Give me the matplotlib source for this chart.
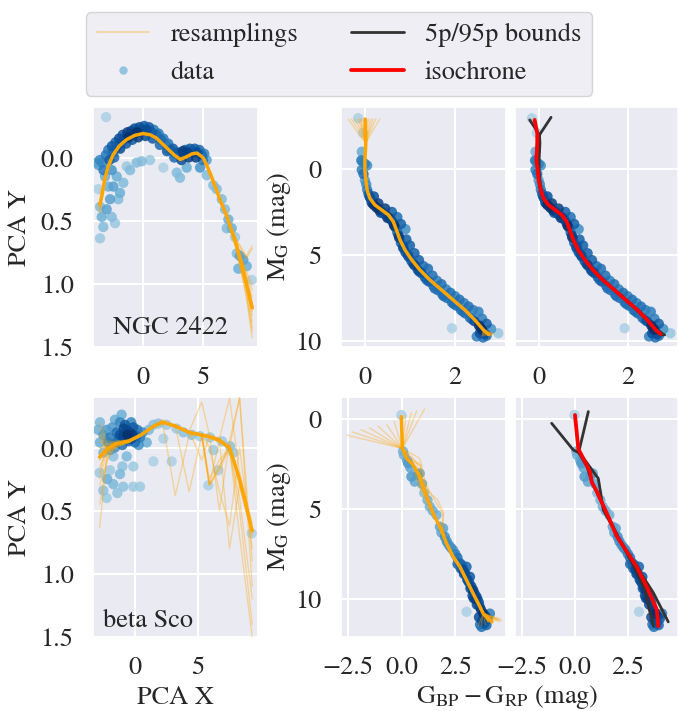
import numpy as np
import matplotlib.pyplot as plt
import seaborn as sns
from matplotlib.lines import Line2D

# ---------------- NGC 2422 : PCA plane ----------------
ngcPcaPoints = [
  # dense arc
  (-3.7, 0.06), (-3.6, 0.02), (-3.4, 0.04), (-3.3, 0.10), (-3.1, -0.02), (-2.9, -0.06),
  (-2.8, 0.02), (-2.6, -0.09), (-2.5, -0.04), (-2.3, -0.12), (-2.2, -0.08), (-2.0, -0.15),
  (-1.8, -0.12), (-1.7, -0.18), (-1.5, -0.15), (-1.3, -0.20), (-1.2, -0.16), (-1.0, -0.21),
  (-0.8, -0.18), (-0.7, -0.23), (-0.5, -0.20), (-0.3, -0.24), (-0.1, -0.21), (0.1, -0.25),
  (0.3, -0.22), (0.5, -0.24), (0.7, -0.20), (0.9, -0.22), (1.1, -0.18), (1.3, -0.19),
  (1.5, -0.14), (1.7, -0.15), (1.9, -0.10), (2.1, -0.11), (2.3, -0.06), (2.5, -0.07),
  (2.7, -0.03), (2.9, -0.04), (3.1, -0.02), (3.3, -0.05), (3.5, -0.06), (3.7, -0.04),
  (3.9, -0.07), (4.1, -0.05), (4.3, -0.07), (4.5, -0.04), (4.7, -0.06), (4.9, -0.02),
  (5.1, -0.03), (5.3, 0.02),
  (-2.4, 0.00), (-1.9, -0.07), (-1.4, -0.11), (-0.9, -0.14), (-0.4, -0.16), (0.2, -0.17),
  (0.8, -0.15), (1.4, -0.10), (2.0, -0.05), (2.6, 0.00), (3.2, 0.02), (3.8, 0.00),
  (4.4, 0.00), (5.0, 0.02),
  # spread below the arc
  (-3.86, 0.04), (-3.72, 0.25), (-3.58, 0.39), (-3.44, 0.47), (-3.58, 0.64), (-3.31, 0.55),
  (-2.75, 0.33), (-2.47, 0.23), (-2.19, 0.15), (-1.92, 0.28), (-1.64, 0.20), (-2.33, 0.52),
  (-3.03, 0.41), (-1.08, 0.10), (-0.53, 0.04), (-0.11, 0.03), (0.58, 0.02), (1.69, 0.08),
  (2.81, 0.12), (3.08, 0.16), (3.64, 0.08), (4.75, 0.08), (-1.36, 0.07), (-2.61, 0.10),
  (-3.17, 0.15), (-2.89, 0.23), (-2.06, 0.33), (-2.61, 0.47), (-3.08, -0.32),
  # bright tail
  (5.31, 0.14), (5.86, 0.22), (6.14, 0.25), (6.56, 0.33), (6.83, 0.41), (7.11, 0.49),
  (7.39, 0.56), (7.67, 0.63), (7.81, 0.76), (8.08, 0.78), (8.36, 0.81), (8.64, 0.86),
  (9.06, 0.97), (7.94, 0.88), (6.97, 0.56),
]
ngcPcaKnotX = [-3.6, -3.4, -3.2, -2.9, -2.5, -2.0, -1.4, -0.7, 0.0, 0.6, 1.1, 1.6, 2.1,
               2.6, 3.1, 3.6, 4.1, 4.5, 5.0, 5.4, 5.9, 6.4, 7.0, 7.8, 8.6, 9.1]
ngcPcaKnotY = [0.41, 0.29, 0.175, 0.07, -0.02, -0.09, -0.14, -0.175, -0.19, -0.18, -0.155,
               -0.11, -0.065, -0.02, 0.015, -0.005, -0.03, -0.035, 0.0, 0.08, 0.2, 0.33,
               0.47, 0.70, 1.0, 1.2]
ngcPcaStartY = [0.41, 0.30, 0.38, 0.44, 0.35, 0.25, 0.40, 0.33, 0.43, 0.37, 0.28, 0.41, 0.36, 0.39]
ngcPcaTailY = [  # y at x = 7.8, 8.6, 9.1 for each resampling
  [0.70, 1.00, 1.20], [0.68, 0.95, 1.10], [0.72, 1.05, 1.35], [0.66, 0.80, 0.72],
  [0.71, 1.02, 1.25], [0.74, 1.10, 1.43], [0.69, 0.98, 1.15], [0.70, 0.92, 1.05],
  [0.65, 0.78, 0.70], [0.73, 1.08, 1.38], [0.70, 1.00, 1.22], [0.68, 0.90, 1.00],
  [0.71, 1.03, 1.30], [0.69, 0.97, 1.18]]

# ---------------- NGC 2422 : CMD ----------------
ngcCmdPoints = [
  (-0.15, -2.95), (-0.04, -2.1), (-0.07, -1.0), (-0.06, -0.45), (-0.07, 0.05), (-0.03, 0.3),
  (0.0, 0.65), (0.03, 0.9), (0.05, 1.2), (0.08, 1.45), (0.12, 1.7), (0.15, 1.95), (0.2, 2.1),
  (0.26, 2.25), (0.32, 2.4), (0.38, 2.5), (0.45, 2.65), (0.52, 2.8), (0.58, 2.95), (0.63, 3.15),
  (0.68, 3.4), (0.72, 3.7), (0.76, 4.0), (0.8, 4.3), (0.85, 4.6), (0.9, 4.85), (0.97, 5.1),
  (1.03, 5.35), (1.1, 5.6), (1.17, 5.85), (1.25, 6.05), (1.33, 6.3), (1.42, 6.55), (1.52, 6.8),
  (1.62, 7.05), (1.72, 7.3), (1.82, 7.5), (1.93, 7.75), (2.03, 7.95), (2.13, 8.2), (2.23, 8.4),
  (2.33, 8.65), (2.43, 8.85), (2.53, 9.1), (2.6, 9.35), (2.67, 9.6),
  (0.2, 1.6), (0.3, 2.0), (0.45, 2.3), (0.6, 2.5), (0.72, 2.8), (0.8, 3.2), (0.9, 3.5),
  (1.0, 4.45), (0.92, 4.1), (1.1, 4.9), (1.2, 5.3), (1.3, 5.65), (1.4, 5.8), (1.5, 6.2),
  (1.6, 6.5), (1.7, 6.7), (1.8, 7.0), (1.9, 7.2), (2.0, 7.4), (2.1, 7.6), (2.2, 7.8),
  (2.3, 8.0), (2.4, 8.2), (2.52, 8.3), (2.6, 8.7), (2.7, 9.0), (2.8, 9.3), (2.96, 9.55),
  (1.93, 9.26), (2.48, 9.74), (0.05, -0.2), (-0.08, -0.5), (0.0, -0.3),
  (0.1, 1.6), (0.17, 2.0), (0.35, 2.55), (0.5, 2.85), (0.65, 3.3), (0.75, 3.9), (0.85, 4.5),
  (0.95, 5.0), (1.07, 5.5), (1.2, 5.95), (1.37, 6.45), (1.55, 6.95), (1.75, 7.4), (1.97, 7.85),
  (2.18, 8.3), (2.38, 8.75), (2.57, 9.25), (2.7, 9.7), (2.55, 9.55), (2.62, 9.8),
]
ngcCmdColor = [0.0, 0.02, 0.02, 0.0, 0.0, 0.02, 0.05, 0.11, 0.22, 0.37, 0.52, 0.63, 0.70,
               0.78, 0.89, 1.04, 1.22, 1.44, 1.70, 1.96, 2.22, 2.44, 2.63, 2.78]
ngcCmdMag = [-2.9, -2.07, -1.5, -0.52, 0.06, 0.64, 1.23, 1.70, 2.09, 2.38, 2.67, 3.06, 3.55,
             4.13, 4.71, 5.29, 5.87, 6.45, 7.03, 7.62, 8.20, 8.78, 9.36, 9.65]
ngcFanTopColor = [-0.37, -0.30, -0.22, -0.15, -0.08, -0.02, 0.03, 0.08, 0.13, 0.18, 0.24, 0.33, -0.11, 0.05]
ngcFanMidColor = [-0.15, -0.10, -0.06, -0.04, -0.02, 0.0, 0.02, 0.04, 0.06, 0.08, 0.10, 0.14, -0.03, 0.03]
ngcFanBotColor = [2.78, 2.70, 2.84, 2.65, 2.80, 2.74, 2.60, 2.82, 2.76, 2.68, 2.86, 2.72, 2.79, 2.62]
ngcFanBotMag = [9.65, 9.62, 9.60, 9.70, 9.66, 9.58, 9.72, 9.63, 9.55, 9.68, 9.58, 9.64, 9.61, 9.70]

ngcIsoColor = [-0.09, -0.03, -0.03, -0.05, -0.02, 0.0, 0.05, 0.11, 0.22, 0.37, 0.52, 0.63,
               0.70, 0.78, 0.89, 1.04, 1.22, 1.44, 1.70, 1.96, 2.22, 2.44, 2.63, 2.74]
ngcIsoMag = [-2.85, -2.07, -1.5, -0.52, 0.06, 0.64, 1.23, 1.70, 2.09, 2.38, 2.67, 3.06, 3.55,
             4.13, 4.71, 5.29, 5.87, 6.45, 7.03, 7.62, 8.20, 8.78, 9.36, 9.6]
ngcLoColor = [-0.20, 0.02, 0.01, -0.01, -0.01, 0.01, 0.04, 0.10, 0.21, 0.36, 0.51, 0.62,
              0.69, 0.77, 0.88, 1.03, 1.21, 1.43, 1.69, 1.95, 2.21, 2.43, 2.62, 2.80]
ngcLoMag = [-2.85, -1.98, -1.5, -0.52, 0.06, 0.64, 1.23, 1.70, 2.09, 2.38, 2.67, 3.06, 3.55,
            4.13, 4.71, 5.29, 5.87, 6.45, 7.03, 7.62, 8.20, 8.78, 9.36, 9.65]
ngcHiColor = [0.28, 0.02, 0.03, 0.01, 0.01, 0.03, 0.06, 0.12, 0.23, 0.38, 0.53, 0.64,
              0.71, 0.79, 0.90, 1.05, 1.23, 1.45, 1.71, 1.97, 2.23, 2.45, 2.64, 2.83]
ngcHiMag = [-3.0, -1.98, -1.5, -0.52, 0.06, 0.64, 1.23, 1.70, 2.09, 2.38, 2.67, 3.06, 3.55,
            4.13, 4.71, 5.29, 5.87, 6.45, 7.03, 7.62, 8.20, 8.78, 9.36, 9.65]

# ---------------- beta Sco : PCA plane ----------------
betaPcaPoints = [
  (-2.78, -0.20), (-2.25, -0.14), (-1.59, -0.22), (-1.06, -0.26), (-1.19, -0.20), (-2.91, -0.14),
  (-1.98, -0.08), (-1.46, -0.12), (-0.66, -0.14), (-0.13, -0.16), (0.40, -0.08), (0.93, -0.04),
  (1.46, -0.18), (1.85, -0.19), (2.51, -0.18), (2.25, -0.07), (-2.78, -0.04), (-1.46, -0.04),
  (-0.66, -0.07), (0.13, -0.09), (-0.40, -0.12), (-0.93, -0.09), (-2.12, -0.04), (-1.59, 0.0),
  (-1.98, 0.02), (-0.8, -0.18), (-0.3, -0.2), (0.2, -0.14), (-1.2, -0.1), (-0.5, -0.05),
  (0.0, -0.04), (-1.0, -0.02), (0.6, -0.12), (1.1, -0.14), (-2.5, -0.1), (-1.8, -0.16),
  (-0.2, -0.1), (0.3, -0.02), (-0.6, -0.1), (-0.9, -0.15), (-1.3, -0.06), (-0.3, -0.07),
  (2.91, 0.11), (1.46, 0.11), (0.40, 0.31), (-0.13, 0.31), (-1.98, 0.18), (-1.72, 0.29),
  (-2.25, 0.40), (-0.93, 0.31), (-2.51, 0.34), (-1.19, 0.21), (-0.13, 0.15), (-0.66, 0.07),
  (-2.51, 0.04), (-1.72, 0.07), (-2.2, 0.25), (-1.4, 0.36), (-2.8, 0.2), (-1.0, 0.15),
  (3.84, -0.12), (5.16, -0.09), (5.95, -0.08), (6.22, 0.02), (6.61, 0.18), (5.82, 0.30),
  (7.54, -0.01), (7.8, 0.04), (9.26, 0.68), (3.3, -0.15), (4.5, -0.1), (6.9, -0.05),
]
betaPcaKnotX = [-2.8, -2.2, -1.5, -0.5, 0.5, 1.5, 2.2, 3.2, 4.3, 5.3, 5.9, 6.7, 7.5, 8.3, 9.3]
betaPcaResamplings = [
  [0.63, 0.05, -0.02, -0.05, -0.10, -0.17, -0.20, -0.17, -0.12, -0.10, -0.09, -0.07, 0.00, 0.25, 0.65],
  [-0.20, -0.05, -0.04, -0.06, -0.11, -0.18, -0.21, -0.16, -0.12, -0.10, 0.30, 0.15, -0.01, 0.30, 0.66],
  [0.10, 0.02, 0.00, -0.04, -0.10, -0.16, -0.19, 0.38, -0.10, -0.10, -0.08, -0.06, 0.00, 0.70, 1.50],
  [0.30, 0.10, -0.02, -0.05, -0.09, -0.17, -0.20, -0.18, -0.13, -0.36, -0.10, -0.07, -0.39, 0.20, 0.60],
  [-0.10, 0.00, -0.03, -0.05, -0.10, -0.17, -0.20, -0.17, -0.12, -0.10, 0.29, -0.05, 0.02, 0.40, 1.20],
  [0.20, -0.03, -0.03, -0.05, -0.11, -0.17, -0.20, -0.17, -0.11, -0.09, -0.10, 0.50, -0.05, -0.39, 0.90],
  [0.00, 0.05, -0.01, -0.04, -0.10, -0.18, -0.22, -0.17, 0.35, -0.10, -0.08, -0.06, 0.80, 0.30, 0.70],
  [0.45, 0.08, 0.00, -0.05, -0.10, -0.17, -0.20, -0.17, -0.12, -0.10, -0.09, -0.07, 0.00, -0.40, 1.10],
  [-0.15, -0.02, -0.05, -0.06, -0.10, -0.17, -0.20, -0.18, -0.12, -0.10, 0.25, 0.10, 0.00, 0.25, 0.65],
  [0.05, 0.00, -0.02, -0.05, -0.10, -0.17, -0.20, -0.17, -0.12, -0.10, -0.09, -0.07, 0.00, 0.25, 0.65],
  [0.15, 0.03, -0.03, -0.05, -0.10, -0.16, -0.20, -0.17, -0.13, 0.10, -0.09, -0.05, 0.02, 0.50, 1.40],
  [-0.05, 0.00, -0.03, -0.05, -0.11, -0.17, -0.21, -0.17, -0.12, -0.10, 0.30, 0.18, 0.00, 0.25, 0.66],
  [0.25, 0.02, -0.03, -0.05, -0.10, -0.17, -0.20, -0.17, -0.12, -0.10, -0.09, -0.07, 0.00, 0.25, 0.65],
  [0.00, 0.00, -0.03, -0.05, -0.10, -0.17, -0.20, -0.17, -0.12, -0.10, 0.00, 0.35, 0.62, 0.00, 0.80],
  [-0.10, 0.04, -0.02, -0.05, -0.10, -0.17, -0.20, -0.17, -0.12, -0.10, -0.09, -0.07, 0.00, 0.25, 0.65],
  [0.10, 0.00, -0.04, -0.06, -0.10, -0.18, -0.20, -0.17, -0.12, -0.10, 0.29, 0.15, -0.02, 0.30, 0.66],
]

# ---------------- beta Sco : CMD ----------------
betaCmdPoints = [
  (-0.02, -0.22), (0.06, 1.8), (0.1, 2.0), (0.25, 2.3), (0.3, 2.46), (0.4, 2.7), (0.45, 3.2),
  (0.61, 3.48), (0.84, 3.02), (0.75, 3.1), (0.95, 3.6), (1.05, 4.1), (1.2, 4.5), (1.31, 4.87),
  (1.45, 5.1), (1.62, 5.33), (1.78, 5.98), (1.93, 6.07), (1.85, 6.3), (2.01, 6.54), (2.1, 6.8),
  (2.2, 7.0), (2.3, 7.15), (2.4, 7.28), (2.5, 7.5), (2.6, 7.7), (2.71, 8.0), (2.8, 8.1),
  (3.02, 8.2), (2.85, 8.35), (2.95, 8.55), (3.18, 8.76), (3.05, 8.9), (3.15, 9.1), (3.25, 9.3),
  (3.33, 9.5), (3.4, 9.7), (3.49, 9.87), (3.55, 10.05), (3.64, 10.43), (3.5, 10.3), (3.7, 10.6),
  (3.8, 10.8), (3.9, 10.95), (4.11, 10.8), (3.02, 10.7), (3.72, 11.54), (3.95, 11.44),
  (3.6, 11.0), (3.75, 11.2), (3.85, 11.35), (3.45, 10.0), (3.3, 9.8), (3.2, 9.4), (3.1, 9.0),
  (2.9, 8.6), (2.75, 8.3), (2.6, 8.05), (3.6, 10.2), (3.35, 9.95), (4.0, 11.1), (3.65, 11.4),
]
betaCmdColor = [-0.02, 0.03, 0.22, 0.53, 0.76, 0.99, 1.23, 1.46, 1.78, 2.09, 2.40, 2.71,
                3.02, 3.33, 3.57, 3.80, 4.03]
betaCmdMag = [-0.13, 1.63, 2.17, 2.54, 3.02, 3.76, 4.50, 5.24, 5.98, 6.91, 7.65, 8.20,
              8.94, 9.69, 10.24, 10.80, 11.26]
betaFanTopColor = [-2.55, -2.3, -1.9, -1.5, -1.1, -0.7, -0.35, -0.02, -0.02, -0.02, 0.2, 0.45, 0.7, 1.07, -0.02]
betaFanTopMag = [0.9, 0.72, 0.6, 0.5, 0.4, 0.3, 0.15, -0.13, -0.13, -0.13, -0.2, -0.35, -0.45, -0.55, -0.13]
betaMidShift = [  # colour shift at mag 2.17 .. 5.98
  [0, 0, 0, 0, 0, 0, 0], [0.6, 0.4, 0.2, 0, 0, 0, 0], [0, 0.3, 0.25, 0.15, 0, 0, 0],
  [0, 0, 0, 0, 0.45, 0.5, 0.1], [0, 0, -0.15, -0.2, 0, 0, 0], [0, 0, 0, 0.2, 0.3, 0.45, 0.15],
  [0.3, 0.2, 0, 0, 0, 0, 0], [0, 0, 0, 0, 0, 0, 0], [0, 0, 0.1, 0.1, 0, 0, 0],
  [0, 0, 0, 0, 0, 0, 0], [0, 0, 0, -0.1, -0.15, 0, 0], [0, 0, 0, 0, 0, 0, 0],
  [0.2, 0.35, 0.1, 0, 0, 0, 0], [0, 0, 0, 0, 0, 0, 0], [0, 0, 0, 0, 0, 0, 0]]
betaFanBotColor = [4.03, 4.35, 4.5, 4.66, 4.2, 3.56, 4.03, 4.4, 3.7, 4.03, 4.55, 4.03, 3.9, 4.6, 4.25]
betaFanBotMag = [11.26, 11.2, 11.15, 11.2, 11.3, 11.5, 11.26, 11.1, 11.5, 11.26, 11.25, 11.26, 11.4, 11.1, 11.2]

betaIsoColor = [0.0, 0.16, 0.47, 0.71, 0.79, 1.02, 1.5, 1.97, 2.28, 2.91, 3.38, 3.86, 3.93]
betaIsoMag = [-0.22, 1.67, 2.37, 2.94, 3.5, 4.0, 5.24, 6.5, 7.06, 8.2, 9.3, 10.6, 11.5]
betaLoColor = [-1.1, -0.08, 0.24, 0.6, 1.1, 1.34, 2.12, 2.91, 3.7, 4.4]
betaLoMag = [0.24, 1.72, 1.9, 2.5, 3.3, 5.06, 6.72, 8.2, 9.65, 11.26]
betaHiColor = [0.63, 0.24, 0.16, 0.55, 0.8, 1.45, 2.05, 2.7, 3.3, 3.7]
betaHiMag = [-0.41, 1.53, 1.85, 2.6, 3.5, 5.1, 6.6, 8.0, 9.5, 11.5]

resampColor = 'orange'
boundColor = '0.2'

sns.set_theme(style='darkgrid')
plt.rcParams['font.family'] = ['STIXGeneral', 'DejaVu Serif']
plt.rcParams['mathtext.fontset'] = 'stix'
for key in ['font.size', 'axes.labelsize', 'xtick.labelsize', 'ytick.labelsize', 'legend.fontsize']:
  plt.rcParams[key] = 19
plt.rcParams['grid.linewidth'] = 1.5


def plotData(ax, points, xspan, yspan, radius=0.06):
  pts = np.array(points, dtype=float)
  px = pts[:, 0] / xspan
  py = pts[:, 1] / yspan
  d = np.hypot(px[:, None] - px[None, :], py[:, None] - py[None, :])
  counts = (d < radius).sum(axis=1).astype(float)
  t = (counts - counts.min()) / max(counts.max() - counts.min(), 1)
  order = np.argsort(t)
  ax.scatter(pts[order, 0], pts[order, 1], c=t[order], cmap='Blues', vmin=-0.5, vmax=1.0,
             s=55, linewidths=0, alpha=0.85, zorder=2)


def plotResamplings(ax, xs, ys):
  xs = np.array(xs, dtype=float)
  ys = np.array(ys, dtype=float)
  for x, y in zip(xs, ys):
    ax.plot(x, y, color=resampColor, alpha=0.35, lw=1.0, zorder=3)
  ax.plot(np.median(xs, axis=0), np.median(ys, axis=0), color=resampColor, lw=2.5, zorder=4)


fig = plt.figure(figsize=(6.78, 7.11), dpi=100)
W, H = 678.0, 711.0


def addAxes(left, top, right, bottom):
  return fig.add_axes([left / W, 1 - bottom / H, (right - left) / W, (bottom - top) / H])


axNgcPca = addAxes(93, 107, 258, 347)
axNgcFit = addAxes(341, 107, 506, 347)
axNgcIso = addAxes(515, 107, 678, 347)
axBetaPca = addAxes(93, 397, 258, 637)
axBetaFit = addAxes(341, 397, 506, 637)
axBetaIso = addAxes(515, 397, 678, 637)

# --- NGC 2422 PCA
plotData(axNgcPca, ngcPcaPoints, 13.8, 1.9)
resX, resY = [], []
for i in range(len(ngcPcaStartY)):
  y = list(ngcPcaKnotY)
  y[0] = ngcPcaStartY[i]
  y[-3:] = ngcPcaTailY[i]
  resX.append(ngcPcaKnotX)
  resY.append(y)
plotResamplings(axNgcPca, resX, resY)
axNgcPca.text(-2.5, 1.4, 'NGC 2422')

# --- NGC 2422 CMD
resX, resY = [], []
for i in range(len(ngcFanTopColor)):
  c = list(ngcCmdColor)
  m = list(ngcCmdMag)
  c[0] = ngcFanTopColor[i]
  c[1] = ngcFanMidColor[i]
  c[-1] = ngcFanBotColor[i]
  m[-1] = ngcFanBotMag[i]
  resX.append(c)
  resY.append(m)
for ax in [axNgcFit, axNgcIso]:
  plotData(ax, ngcCmdPoints, 3.66, 14.0)
plotResamplings(axNgcFit, resX, resY)
axNgcIso.plot(ngcLoColor, ngcLoMag, color=boundColor, lw=2, zorder=3)
axNgcIso.plot(ngcHiColor, ngcHiMag, color=boundColor, lw=2, zorder=3)
axNgcIso.plot(ngcIsoColor, ngcIsoMag, color='red', lw=2.75, zorder=4)

# --- beta Sco PCA
plotData(axBetaPca, betaPcaPoints, 13.1, 1.9)
plotResamplings(axBetaPca, [betaPcaKnotX] * len(betaPcaResamplings), betaPcaResamplings)
axBetaPca.text(-2.5, 1.42, 'beta Sco')

# --- beta Sco CMD
resX, resY = [], []
for i in range(len(betaFanTopColor)):
  c = list(betaCmdColor)
  m = list(betaCmdMag)
  c[0] = betaFanTopColor[i]
  m[0] = betaFanTopMag[i]
  for k, dc in enumerate(betaMidShift[i]):
    c[2 + k] += dc
  c[-1] = betaFanBotColor[i]
  m[-1] = betaFanBotMag[i]
  resX.append(c)
  resY.append(m)
for ax in [axBetaFit, axBetaIso]:
  plotData(ax, betaCmdPoints, 7.7, 13.3)
plotResamplings(axBetaFit, resX, resY)
axBetaIso.plot(betaLoColor, betaLoMag, color=boundColor, lw=2, zorder=3)
axBetaIso.plot(betaHiColor, betaHiMag, color=boundColor, lw=2, zorder=3)
axBetaIso.plot(betaIsoColor, betaIsoMag, color='red', lw=2.75, zorder=4)

# --- axes limits, ticks, labels
for ax, xl in [(axNgcPca, (-4.17, 9.58)), (axBetaPca, (-3.33, 9.76))]:
  ax.set_xlim(*xl)
  ax.set_ylim(1.5, -0.4)
  ax.set_xticks([0, 5])
  ax.set_yticks([0.0, 0.5, 1.0, 1.5])
  ax.set_ylabel('PCA Y', labelpad=6)
axBetaPca.set_xlabel('PCA X', labelpad=4)

for ax in [axNgcFit, axNgcIso]:
  ax.set_xlim(-0.53, 3.13)
  ax.set_ylim(10.35, -3.6)
  ax.set_xticks([0, 2])
  ax.set_yticks([0, 5, 10])
for ax in [axBetaFit, axBetaIso]:
  ax.set_xlim(-2.83, 4.86)
  ax.set_ylim(12.1, -1.22)
  ax.set_xticks([-2.5, 0.0, 2.5])
  ax.set_yticks([0, 5, 10])
for ax in [axNgcFit, axBetaFit]:
  ax.set_ylabel(r'$\mathrm{M_G}$ (mag)', labelpad=2)
for ax in [axNgcIso, axBetaIso]:
  ax.tick_params(labelleft=False)

for ax in fig.axes:
  ax.tick_params(length=0, pad=14)

fig.text(507 / W, 1 - 697 / H, r'$\mathrm{G_{BP} - G_{RP}}$ (mag)', ha='center', va='center')

handles = [
  Line2D([], [], color=resampColor, alpha=0.3, lw=1.5, label='resamplings'),
  Line2D([], [], ls='none', marker='o', ms=5, color=plt.get_cmap('Blues')(0.4), label='data'),
  Line2D([], [], color=boundColor, lw=2, label='5p/95p bounds'),
  Line2D([], [], color='red', lw=2.75, label='isochrone'),
]
fig.legend(handles=handles, ncol=2, loc='center', bbox_to_anchor=(339 / W, 1 - 54 / H), frameon=True)

fig.savefig('out.png', dpi=100)
